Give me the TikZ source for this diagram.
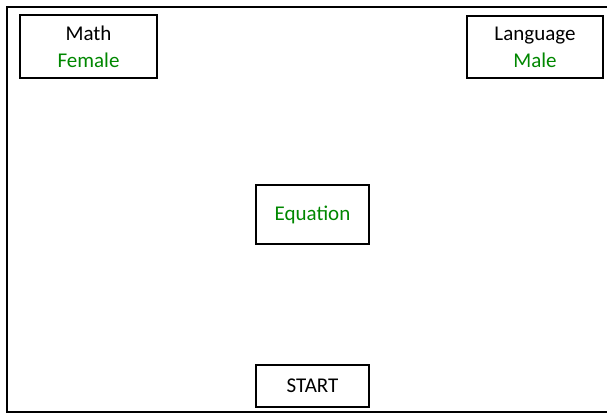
\documentclass[tikz,border=0pt]{standalone}
\usepackage{fontspec}
\setmainfont{Carlito}
\definecolor{txtgreen}{RGB}{0,135,0}
\begin{document}
\begin{tikzpicture}[x=1pt,y=-1pt,
  box/.style={draw=black,line width=2pt,inner sep=0pt,align=center,
    font=\fontsize{21}{27}\selectfont},
  gr/.style={text=txtgreen}]
\useasboundingbox (0,0) rectangle (607,415);
\coordinate (tr) at (609,7);
\coordinate (tl) at (7,7);
\coordinate (bl) at (7,412);
\coordinate (br) at (609,412);
\draw[line width=2pt] (tr) -- (tl) -- (bl) -- (br);
\node[box,minimum width=137pt,minimum height=63pt] (math) at (88.5,46.5) {Math\\\textcolor{txtgreen}{Female}};
\node[box,minimum width=136pt,minimum height=62pt] (lang) at (535,47) {Language\\\textcolor{txtgreen}{Male}};
\node[box,gr,minimum width=113pt,minimum height=59pt] (eq) at (312.5,214.5) {Equation};
\node[box,minimum width=113pt,minimum height=42pt] (start) at (312.5,386) {START};
\end{tikzpicture}
\end{document}
